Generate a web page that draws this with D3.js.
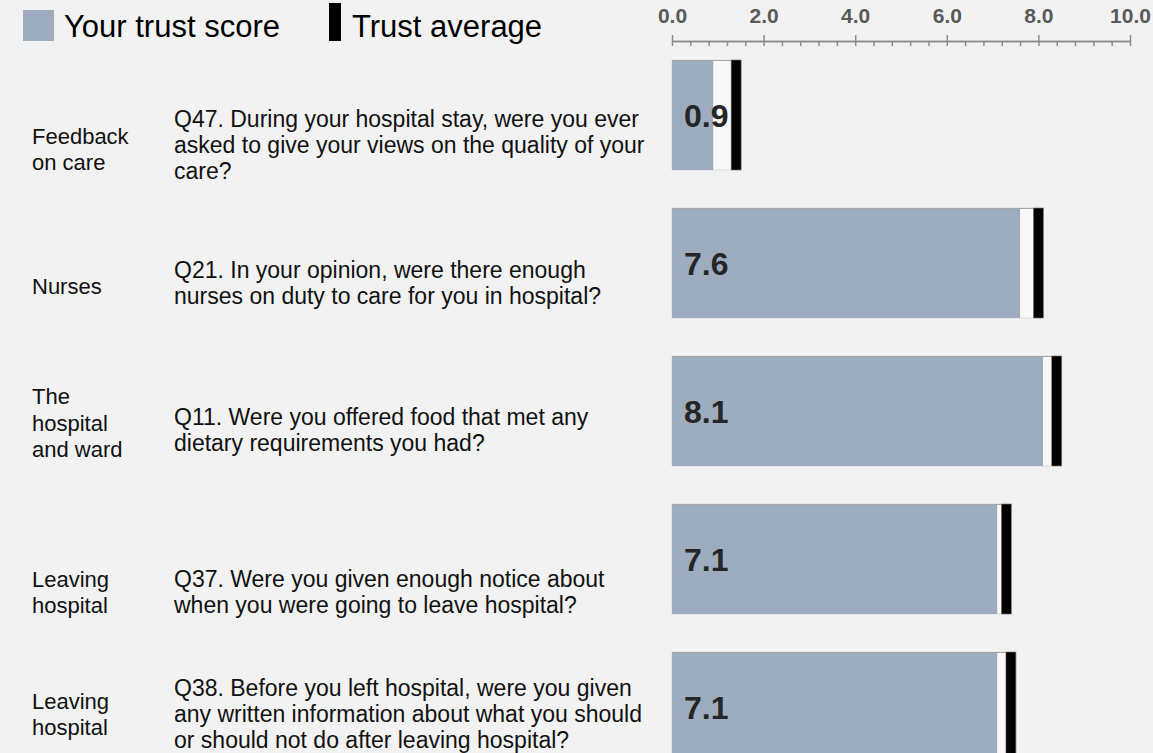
<!DOCTYPE html>
<html>
<head>
<meta charset="utf-8">
<script src="https://cdn.jsdelivr.net/npm/d3@7/dist/d3.min.js"></script>
<style>
  html, body { margin: 0; padding: 0; background: #f2f2f2; }
  svg { display: block; font-family: "Liberation Sans", Arial, sans-serif; }
  .axis path, .axis line { stroke: #8c8c8c; stroke-width: 1.5; }
  .axis text { font-size: 21px; font-weight: bold; fill: #595959; font-family: "Liberation Sans", Arial, sans-serif; }
</style>
</head>
<body>
<svg id="chart" width="1153" height="753"></svg>
<script>
// data
var categories = [
    ["Feedback", "on care"],
    ["Nurses"],
    ["The", "hospital", "and ward"],
    ["Leaving", "hospital"],
    ["Leaving", "hospital"]
];
var questions = [
    ["Q47. During your hospital stay, were you ever", "asked to give your views on the quality of your", "care?"],
    ["Q21. In your opinion, were there enough", "nurses on duty to care for you in hospital?"],
    ["Q11. Were you offered food that met any", "dietary requirements you had?"],
    ["Q37. Were you given enough notice about", "when you were going to leave hospital?"],
    ["Q38. Before you left hospital, were you given", "any written information about what you should", "or should not do after leaving hospital?"]
];
var scores = [0.9, 7.6, 8.1, 7.1, 7.1];
var averages = [1.4, 8.0, 8.4, 7.3, 7.4];
var majorTicks = [0, 2, 4, 6, 8, 10];
var minorTicks = d3.range(0, 10.01, 0.4);

// layout: label block offsets from the bar centre
var catShift = [34, 23, 12, 33, 7];
var qShift = [30, 20, 19, 33, 7];
var lineH = 26.3;

var svg = d3.select('#chart');

var x = d3.scaleLinear().domain([0, 10]).range([672, 1130]);
var y = d3.scaleBand()
    .domain(d3.range(scores.length))
    .range([41, 781])
    .paddingInner(0.2568)
    .paddingOuter(0.1284);

// legend
var legend = svg.append('g');
legend.append('rect').attr('x', 23).attr('y', 10).attr('width', 31).attr('height', 31).attr('fill', '#9eacbf');
legend.append('text').attr('x', 64).attr('y', 37).attr('font-size', 31).attr('fill', '#000').text('Your trust score');
legend.append('rect').attr('x', 329).attr('y', 3).attr('width', 12).attr('height', 38).attr('fill', '#000');
legend.append('text').attr('x', 352).attr('y', 37).attr('font-size', 31).attr('fill', '#000').text('Trust average');

// axis
svg.append('g').attr('class', 'axis')
    .attr('transform', 'translate(0,41)')
    .call(d3.axisBottom(x).tickValues(minorTicks).tickSize(5).tickSizeOuter(0).tickFormat(''));
svg.append('g').attr('class', 'axis')
    .attr('transform', 'translate(0,41)')
    .call(d3.axisTop(x).tickValues(majorTicks).tickSize(6).tickSizeOuter(0).tickPadding(12).tickFormat(d3.format('.1f')));

// rows
var rows = svg.selectAll('g.row')
    .data(scores)
    .enter()
    .append('g').attr('class', 'row');

rows.append('rect')
    .attr('x', x(0))
    .attr('y', function(d, i){ return y(i); })
    .attr('width', function(d, i){ return x(averages[i]) + 5 - x(0); })
    .attr('height', y.bandwidth())
    .attr('fill', '#f8f8f8')
    .attr('stroke', '#dcdcdc')
    .attr('stroke-width', 1);

rows.append('rect')
    .attr('x', x(0))
    .attr('y', function(d, i){ return y(i); })
    .attr('width', function(d){ return x(d) - x(0); })
    .attr('height', y.bandwidth())
    .attr('fill', '#9eacbf');

rows.append('line')
    .attr('x1', x(0))
    .attr('x2', function(d, i){ return x(averages[i]) + 5; })
    .attr('y1', function(d, i){ return y(i) + 0.5; })
    .attr('y2', function(d, i){ return y(i) + 0.5; })
    .attr('stroke', '#a6a6a6')
    .attr('stroke-width', 1);

rows.append('rect')
    .attr('x', function(d, i){ return x(averages[i]) - 5; })
    .attr('y', function(d, i){ return y(i); })
    .attr('width', 10)
    .attr('height', y.bandwidth())
    .attr('fill', '#000')
    .attr('stroke', '#7f7f7f')
    .attr('stroke-width', 0.6);

rows.append('text')
    .attr('x', 684)
    .attr('y', function(d, i){ return y(i) + y.bandwidth() / 2 + 11.5; })
    .attr('font-size', 32)
    .attr('font-weight', 'bold')
    .attr('fill', '#262626')
    .text(function(d){ return d3.format('.1f')(d); });

function addLines(sel, xpos, lines, shift, size){
    sel.each(function(d, i){
        var ls = lines[i];
        var cy = y(i) + y.bandwidth() / 2 + shift[i];
        var t = d3.select(this).append('text')
            .attr('font-size', size)
            .attr('fill', '#111');
        t.selectAll('tspan')
            .data(ls)
            .enter()
            .append('tspan')
            .attr('x', xpos)
            .attr('y', function(l, j){ return cy + (j - (ls.length - 1) / 2) * lineH + size * 0.35; })
            .text(function(l){ return l; });
    });
}
addLines(rows, 32, categories, catShift, 22);
addLines(rows, 174, questions, qShift, 23);
</script>
</body>
</html>
